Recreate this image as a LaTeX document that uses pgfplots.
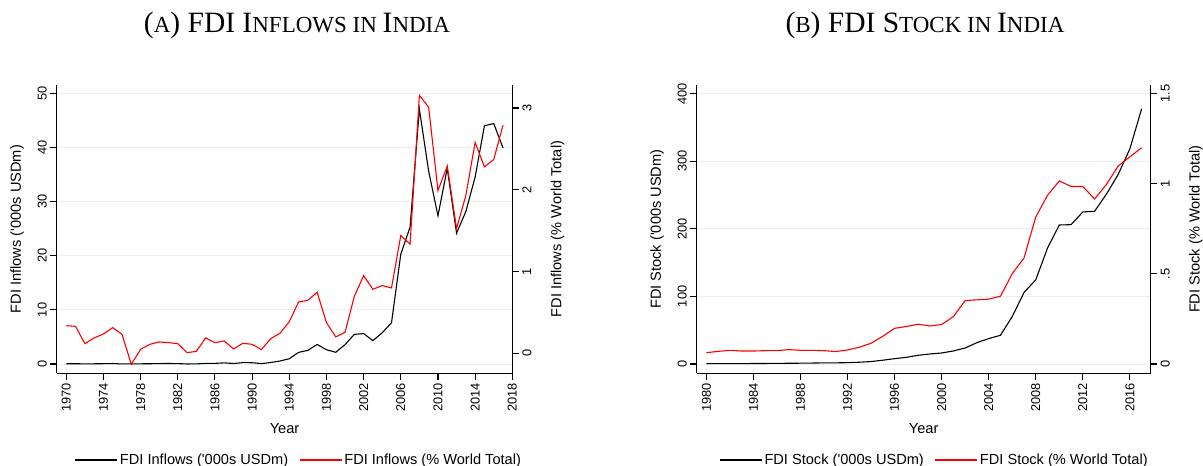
\documentclass[border=0pt]{standalone}
\usepackage{fontspec}
\setmainfont{Liberation Sans}
\newfontfamily\titlefont{Liberation Serif}
\usepackage{pgfplots}
\pgfplotsset{compat=1.18}
\definecolor{gridc}{RGB}{232,240,242}
\newcommand{\Bg}[1]{{\fontsize{29.5}{30}\selectfont #1}}
\newcommand{\Sm}[1]{{\fontsize{23}{24}\selectfont #1}}
\newcommand{\labfont}{\fontsize{14.6}{16}\selectfont}

\pgfplotstableread{
year v
1970 0.046
1971 0.048
1972 0.026
1973 0.037
1974 0.057
1975 0.085
1976 0.01
1977 0.019
1978 0.034
1979 0.049
1980 0.079
1981 0.092
1982 0.072
1983 0.006
1984 0.019
1985 0.106
1986 0.118
1987 0.212
1988 0.091
1989 0.252
1990 0.237
1991 0.074
1992 0.277
1993 0.55
1994 0.973
1995 2.151
1996 2.525
1997 3.619
1998 2.633
1999 2.168
2000 3.588
2001 5.478
2002 5.63
2003 4.321
2004 5.778
2005 7.622
2006 20.328
2007 25.35
2008 47.139
2009 35.657
2010 27.417
2011 36.19
2012 24.196
2013 28.199
2014 34.582
2015 44.064
2016 44.481
2017 39.966
}\inflowusd

\pgfplotstableread{
year v
1970 0.338
1971 0.330
1972 0.118
1973 0.188
1974 0.236
1975 0.314
1976 0.232
1977 -0.135
1978 0.049
1979 0.110
1980 0.139
1981 0.130
1982 0.118
1983 0.008
1984 0.024
1985 0.188
1986 0.130
1987 0.151
1988 0.053
1989 0.122
1990 0.110
1991 0.045
1992 0.179
1993 0.245
1994 0.387
1995 0.628
1996 0.648
1997 0.746
1998 0.375
1999 0.200
2000 0.257
2001 0.697
2002 0.950
2003 0.783
2004 0.828
2005 0.799
2006 1.44
2007 1.335
2008 3.155
2009 3.01
2010 1.99
2011 2.29
2012 1.525
2013 1.93
2014 2.58
2015 2.28
2016 2.37
2017 2.79
}\inflowpct

\pgfplotstableread{
year v
1980 0.45
1981 0.5
1982 0.6
1983 0.6
1984 0.7
1985 0.8
1986 0.9
1987 1.1
1988 1.2
1989 1.4
1990 1.66
1991 1.7
1992 2.0
1993 2.6
1994 3.6
1995 5.6
1996 7.9
1997 9.9
1998 12.9
1999 14.8
2000 16.3
2001 19.3
2002 23.7
2003 31.6
2004 37.6
2005 42.5
2006 70.2
2007 105.8
2008 124.6
2009 171.6
2010 205.7
2011 206.2
2012 225
2013 226
2014 251.2
2015 280.3
2016 318.4
2017 377.8
}\stockusd

\pgfplotstableread{
year v
1980 0.063
1981 0.070
1982 0.076
1983 0.072
1984 0.072
1985 0.074
1986 0.074
1987 0.080
1988 0.076
1989 0.076
1990 0.074
1991 0.069
1992 0.078
1993 0.093
1994 0.115
1995 0.154
1996 0.198
1997 0.208
1998 0.221
1999 0.211
2000 0.219
2001 0.263
2002 0.352
2003 0.356
2004 0.360
2005 0.376
2006 0.501
2007 0.588
2008 0.816
2009 0.936
2010 1.016
2011 0.985
2012 0.985
2013 0.916
2014 0.996
2015 1.098
2016 1.150
2017 1.200
}\stockpct

\pgfplotsset{
  stata/.style={
    scale only axis, width=455.6pt, height=288.3pt,
    anchor=south west,
    axis line style={line width=1.1pt, black},
    tick align=outside, major tick length=6.5pt,
    every tick/.style={black, line width=1.1pt},
    tick label style={font=\fontsize{12.8}{14}\selectfont},
    /pgf/number format/assume math mode=true,
    /pgf/number format/1000 sep={},
    legend style={draw=none, fill=none, legend columns=2,
      font=\labfont,
      /tikz/every even column/.append style={column sep=9pt}},
    legend image code/.code={\draw[#1] (0pt,0pt) -- (42pt,0pt);},
  },
  leftax/.style={
    axis x line*=bottom, axis y line*=left,
    xticklabel style={rotate=90, anchor=east},
    yticklabel style={rotate=90, anchor=south},
    ymajorgrids, major grid style={gridc, line width=1pt},
    xlabel={Year},
    every axis x label/.style={at={(axis description cs:0.5,-0.2105)}, anchor=base, font=\labfont},
    every axis y label/.style={at={(axis description cs:-0.0871,0.5)}, rotate=90, anchor=center, font=\labfont},
  },
  rightax/.style={
    axis y line*=right, axis x line=none,
    yticklabel style={rotate=90, anchor=north},
    every axis y label/.style={at={(axis description cs:1.0994,0.5)}, rotate=90, anchor=center, font=\labfont},
  },
}

\begin{document}
\begin{tikzpicture}[x=1pt,y=1pt]
\path[use as bounding box] (0,0) rectangle (1203,466);

% ---------- Panel A ----------
\begin{axis}[stata, leftax, at={(56.7pt,92.7pt)},
  xmin=1968.97, xmax=2018, ymin=-1.72, ymax=51.61,
  xtick={1970,1974,...,2018}, ytick={0,10,...,50},
  ylabel={FDI Inflows (\textquotesingle 000s USDm)}]
\addplot[black, line width=1.1pt] table[x=year,y=v] {\inflowusd};
\end{axis}
\begin{axis}[stata, rightax, at={(56.7pt,92.7pt)},
  xmin=1968.97, xmax=2018, ymin=-0.2446, ymax=3.281,
  ytick={0,1,2,3},
  ylabel={FDI Inflows (\% World Total)},
  legend style={at={(axis description cs:0.5316,-0.3007)}, anchor=center}]
\addlegendimage{black, line width=1.1pt}
\addlegendentry{FDI Inflows (\textquotesingle 000s USDm)}
\addplot[red, line width=1.1pt] table[x=year,y=v] {\inflowpct};
\addlegendentry{FDI Inflows (\% World Total)}
\end{axis}

% ---------- Panel B ----------
\begin{axis}[stata, leftax, at={(696.7pt,92.7pt)}, width=454pt,
  xmin=1979.18, xmax=2017.77, ymin=-13.76, ymax=412.87,
  xtick={1980,1984,...,2016}, ytick={0,100,...,400},
  ylabel={FDI Stock (\textquotesingle 000s USDm)}]
\addplot[black, line width=1.1pt] table[x=year,y=v] {\stockusd};
\end{axis}
\begin{axis}[stata, rightax, at={(696.7pt,92.7pt)}, width=454pt,
  xmin=1979.18, xmax=2017.77, ymin=-0.0516, ymax=1.5483,
  ytick={0,0.5,1,1.5}, yticklabels={0,.5,1,1.5},
  ylabel={FDI Stock (\% World Total)},
  legend style={at={(axis description cs:0.5238,-0.3007)}, anchor=center}]
\addlegendimage{black, line width=1.1pt}
\addlegendentry{FDI Stock (\textquotesingle 000s USDm)}
\addplot[red, line width=1.1pt] table[x=year,y=v] {\stockpct};
\addlegendentry{FDI Stock (\% World Total)}
\end{axis}

% ---------- Titles ----------
\node[anchor=base, inner sep=0pt, font=\titlefont] at (297,433.7)
  {\Bg{(}\Sm{A}\Bg{) FDI I}\Sm{NFLOWS IN }\Bg{I}\Sm{NDIA}};
\node[anchor=base, inner sep=0pt, font=\titlefont] at (925,433.7)
  {\Bg{(}\Sm{B}\Bg{) FDI S}\Sm{TOCK IN }\Bg{I}\Sm{NDIA}};
\end{tikzpicture}
\end{document}
